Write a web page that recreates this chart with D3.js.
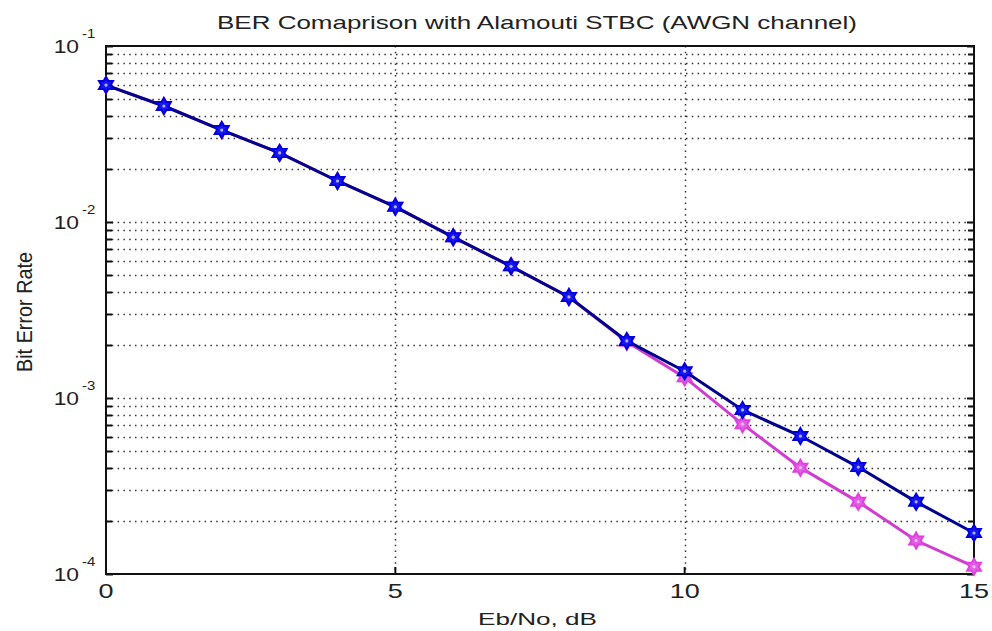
<!DOCTYPE html>
<html>
<head>
<meta charset="utf-8">
<script src="https://cdn.jsdelivr.net/npm/d3@7"></script>
<style>
  body { margin: 0; background: #fff; }
  text { font-family: "Liberation Sans", Arial, sans-serif; fill: #222; }
</style>
</head>
<body>
<div class="chart"></div>
<script>
var svgWidth = 992;
var svgHeight = 631;

var margin = { top: 46, right: 18, bottom: 57, left: 106 };
var width = svgWidth - margin.left - margin.right;
var height = svgHeight - margin.top - margin.bottom;

// Eb/No in dB
var ebno = [0, 1, 2, 3, 4, 5, 6, 7, 8, 9, 10, 11, 12, 13, 14, 15];

// BER
var berOne = [0.060, 0.0456, 0.0333, 0.0247, 0.0171, 0.0122, 0.0082, 0.0056, 0.00375, 0.00211,
              0.00142, 0.000855, 0.000608, 0.000405, 0.000257, 0.000171];
var berTwo = [0.060, 0.0456, 0.0333, 0.0247, 0.0171, 0.0122, 0.0082, 0.0056, 0.00375, 0.00209,
              0.00131, 0.00071, 0.000402, 0.000257, 0.000155, 0.000110];

var xTicks = [0, 5, 10, 15];
var yTicks = [-1, -2, -3, -4];

var svg = d3.select(".chart")
    .append("svg")
    .attr("width", svgWidth)
    .attr("height", svgHeight);

var chartGroup = svg.append("g")
    .attr("transform", `translate(${margin.left}, ${margin.top})`);

var xScale = d3.scaleLinear().domain([0, 15]).range([0, width]);
var yScale = d3.scaleLog().domain([1e-4, 1e-1]).range([height, 0]);

// minor values for log grid
var minorVals = [];
[-4, -3, -2].forEach(function (e) {
    for (var k = 2; k <= 9; k++) minorVals.push(k * Math.pow(10, e));
});
var majorVals = yTicks.map(e => Math.pow(10, e));

// horizontal dotted grid
chartGroup.append("g")
    .selectAll("line")
    .data(minorVals.concat(majorVals.slice(1, 3)))
    .enter()
    .append("line")
    .attr("x1", 0)
    .attr("x2", width)
    .attr("y1", d => Math.round(yScale(d)) + 0.5)
    .attr("y2", d => Math.round(yScale(d)) + 0.5)
    .attr("stroke", "#333")
    .attr("stroke-width", 1.5)
    .attr("stroke-dasharray", "1.5,4.3");

// vertical dotted grid
chartGroup.append("g")
    .selectAll("line")
    .data([5, 10])
    .enter()
    .append("line")
    .attr("x1", d => Math.round(xScale(d)) + 0.5)
    .attr("x2", d => Math.round(xScale(d)) + 0.5)
    .attr("y1", 0)
    .attr("y2", height)
    .attr("stroke", "#333")
    .attr("stroke-width", 1.5)
    .attr("stroke-dasharray", "1.5,4.3");

// axis ticks (inward), left and right, bottom
var allY = minorVals.concat(majorVals);
var tickLen = function (d) { return majorVals.indexOf(d) >= 0 ? 7 : 6; };

chartGroup.append("g")
    .selectAll("line")
    .data(allY)
    .enter()
    .append("line")
    .attr("x1", 0)
    .attr("x2", d => tickLen(d))
    .attr("y1", d => Math.round(yScale(d)) + 0.5)
    .attr("y2", d => Math.round(yScale(d)) + 0.5)
    .attr("stroke", "#111")
    .attr("stroke-width", 2);

chartGroup.append("g")
    .selectAll("line")
    .data(allY)
    .enter()
    .append("line")
    .attr("x1", width)
    .attr("x2", d => width - tickLen(d))
    .attr("y1", d => Math.round(yScale(d)) + 0.5)
    .attr("y2", d => Math.round(yScale(d)) + 0.5)
    .attr("stroke", "#111")
    .attr("stroke-width", 2);

chartGroup.append("g")
    .selectAll("line")
    .data(xTicks)
    .enter()
    .append("line")
    .attr("x1", d => xScale(d))
    .attr("x2", d => xScale(d))
    .attr("y1", height)
    .attr("y2", height - 7)
    .attr("stroke", "#111")
    .attr("stroke-width", 2);

// box
chartGroup.append("rect")
    .attr("x", 0)
    .attr("y", 0)
    .attr("width", width)
    .attr("height", height)
    .attr("fill", "none")
    .attr("stroke", "#111")
    .attr("stroke-width", 2);

// x tick labels (picture is stretched sideways, so scale text)
chartGroup.append("g")
    .selectAll("g")
    .data(xTicks)
    .enter()
    .append("g")
    .attr("transform", d => `translate(${xScale(d)}, ${height + 24}) scale(1.35, 1)`)
    .append("text")
    .attr("text-anchor", "middle")
    .attr("font-size", "20px")
    .text(d => d);

// y tick labels 10^e
var yLab = chartGroup.append("g")
    .selectAll("g")
    .data(yTicks)
    .enter()
    .append("g");
yLab.append("text")
    .attr("transform", d => `translate(-27, ${yScale(Math.pow(10, d)) + 7}) scale(1.2, 1)`)
    .attr("text-anchor", "end")
    .attr("font-size", "19px")
    .text("10");
yLab.append("text")
    .attr("transform", d => `translate(-24, ${yScale(Math.pow(10, d)) - 8}) scale(1.15, 1)`)
    .attr("text-anchor", "start")
    .attr("font-size", "13px")
    .text(d => d);

// lines and markers
var line = d3.line()
    .x((d, i) => xScale(ebno[i]))
    .y(d => yScale(d));

// six pointed star marker
function hexagram(r) {
    var pts = [];
    for (var i = 0; i < 12; i++) {
        var a = Math.PI / 6 * i - Math.PI / 2;
        var rr = i % 2 === 0 ? r : r * 0.58;
        pts.push([rr * Math.cos(a), rr * Math.sin(a)]);
    }
    return "M" + pts.map(p => p[0].toFixed(2) + "," + p[1].toFixed(2)).join("L") + "Z";
}

function drawSeries(values, lineColor, markColor, fillColor) {
    chartGroup.append("path")
        .datum(values)
        .attr("d", line)
        .attr("fill", "none")
        .attr("stroke", lineColor)
        .attr("stroke-width", 3);

    var marks = chartGroup.append("g")
        .selectAll("g")
        .data(values)
        .enter()
        .append("g")
        .attr("transform", (d, i) => `translate(${xScale(ebno[i])}, ${yScale(d)})`);
    marks.append("path")
        .attr("d", hexagram(8))
        .attr("fill", fillColor)
        .attr("stroke", markColor)
        .attr("stroke-width", 2);
    marks.append("circle")
        .attr("r", 1.6)
        .attr("fill", "#d8d8ff")
        .attr("fill-opacity", 0.8);
}

drawSeries(berTwo, "#d03cd0", "#e040e0", "#e060e0");
drawSeries(berOne, "#00008c", "#0000e0", "#1818e8");

// title and axis labels
svg.append("text")
    .attr("x", 217)
    .attr("y", 29)
    .attr("font-size", "19px")
    .attr("textLength", 640)
    .attr("lengthAdjust", "spacingAndGlyphs")
    .text("BER Comaprison with Alamouti STBC (AWGN channel)");

svg.append("text")
    .attr("x", 478)
    .attr("y", 625)
    .attr("font-size", "17px")
    .attr("textLength", 119)
    .attr("lengthAdjust", "spacingAndGlyphs")
    .text("Eb/No, dB");

svg.append("g")
    .attr("transform", "translate(32, 312) scale(1.3, 1) rotate(-90)")
    .append("text")
    .attr("x", -60)
    .attr("y", 0)
    .attr("font-size", "17px")
    .attr("textLength", 120)
    .attr("lengthAdjust", "spacingAndGlyphs")
    .text("Bit Error Rate");
</script>
</body>
</html>
